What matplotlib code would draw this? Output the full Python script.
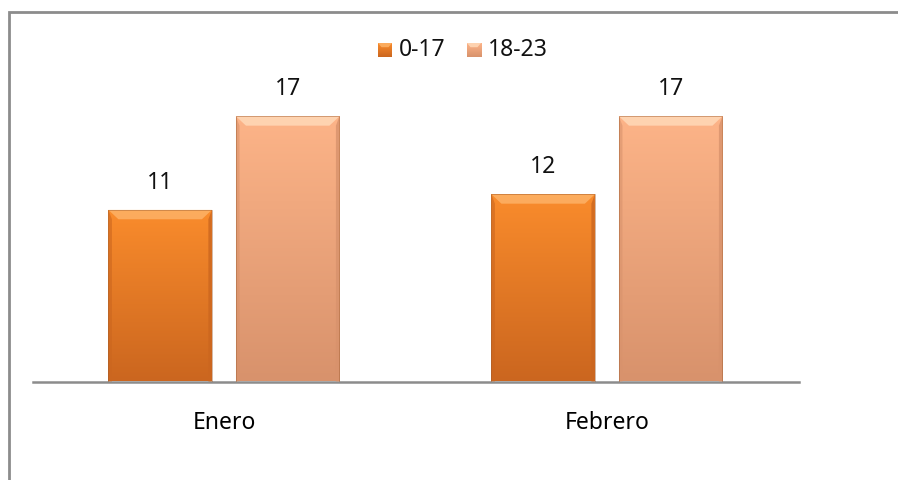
import numpy as np
import matplotlib
matplotlib.use("Agg")
import matplotlib.pyplot as plt
from matplotlib.colors import LinearSegmentedColormap
from matplotlib.patches import Rectangle, Polygon

# data
months = ["Enero", "Febrero"]
series = ["0-17", "18-23"]
vals_0_17 = [11, 12]
vals_18_23 = [17, 17]

# (top colour, bottom colour, bevel highlight)
palette = {
    "0-17": ("#fa8c2c", "#cb661f", "#fdb266"),
    "18-23": ("#fdb488", "#d8926c", "#ffd9b8"),
}

plt.rcParams["font.family"] = ["Noto Sans", "DejaVu Sans"]

fig = plt.figure(figsize=(8.98, 4.8), dpi=100)
ax = fig.add_axes([33 / 898, 1 - 381.5 / 480, 766 / 898, 280.8 / 480])

# outer chart border (right/bottom run off the image like the source)
fig.patches.append(Rectangle((8.5 / 898, -0.1), 1.2, (480 - 11.5) / 480 + 0.1,
                             transform=fig.transFigure, fill=False,
                             edgecolor="#8c8c8c", linewidth=2.0))

x = np.arange(len(months))
width = 0.27
offsets = [-0.168, 0.165]
grad = np.linspace(0, 1, 256).reshape(-1, 1)


def gradient_bar(ax, xc, h, name):
    top, bot, hi = palette[name]
    cmap = LinearSegmentedColormap.from_list(name, [bot, top])
    left, right = xc - width / 2, xc + width / 2
    bar = ax.bar(xc, h, width, color="none", edgecolor="none")[0]
    im = ax.imshow(grad, cmap=cmap, origin="lower", aspect="auto",
                   extent=(left, right, 0, h), zorder=2)
    im.set_clip_path(bar)
    # bevel: light strip on top, darker strips on the sides
    bx, by = 0.026, 0.6
    ax.add_patch(Polygon([(left, h), (right, h), (right - bx, h - by), (left + bx, h - by)],
                         closed=True, facecolor=hi, edgecolor="none", alpha=0.85, zorder=3))
    ax.add_patch(Polygon([(left, 0), (left, h), (left + bx * 0.35, h - by), (left + bx * 0.35, 0)],
                         closed=True, facecolor=bot, edgecolor="none", alpha=0.6, zorder=3))
    ax.add_patch(Polygon([(right, 0), (right, h), (right - bx * 0.35, h - by), (right - bx * 0.35, 0)],
                         closed=True, facecolor=bot, edgecolor="none", alpha=0.8, zorder=3))
    ax.add_patch(Rectangle((left, 0), width, h, fill=False, edgecolor="#9a5a2e",
                           linewidth=0.6, alpha=0.5, zorder=4))
    ax.annotate(str(h), (xc, h), xytext=(0, 11), textcoords="offset points",
                ha="center", va="bottom", fontsize=16.5, color="#111111")


for off, name, vals in zip(offsets, series, [vals_0_17, vals_18_23]):
    for xi, v in zip(x, vals):
        gradient_bar(ax, xi + off, v, name)

ax.set_xlim(-0.5, 1.5)
ax.set_ylim(0, 18)
ax.set_xticks(x)
ax.set_xticklabels(months, fontsize=16.5)
ax.tick_params(axis="x", length=0, pad=21)
ax.set_yticks([])
for s in ["top", "right", "left"]:
    ax.spines[s].set_visible(False)
ax.spines["bottom"].set_color("#8c8c8c")
ax.spines["bottom"].set_linewidth(1.8)

# legend with gradient squares
lx = [378, 467]
ly = 50
for px, name in zip(lx, series):
    top, bot, hi = palette[name]
    cmap = LinearSegmentedColormap.from_list(name, [bot, top])
    lax = fig.add_axes([px / 898, 1 - (ly + 7) / 480, 14 / 898, 14 / 480])
    lax.imshow(grad, cmap=cmap, origin="lower", aspect="auto", extent=(0, 1, 0, 1))
    lax.add_patch(Polygon([(0, 1), (1, 1), (0.75, 0.7), (0.25, 0.7)], facecolor=hi,
                          edgecolor="none", alpha=0.85))
    lax.set_xlim(0, 1)
    lax.set_ylim(0, 1)
    lax.axis("off")
    fig.text((px + 21) / 898, 1 - ly / 480, name, ha="left", va="center",
             fontsize=16.5, color="#111111")

fig.savefig("out.png", dpi=100, facecolor="white")
